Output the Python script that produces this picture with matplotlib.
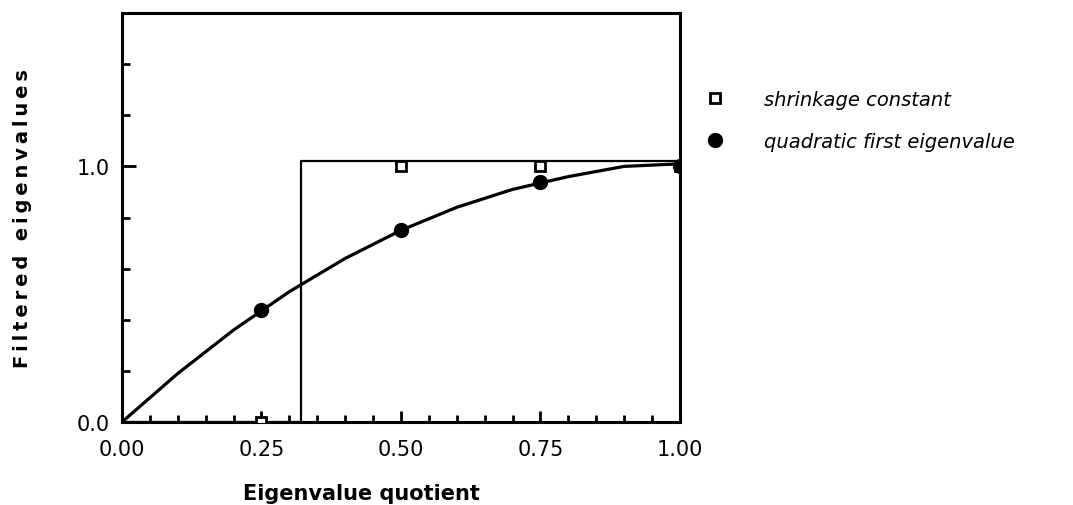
import matplotlib.pyplot as plt
from matplotlib.ticker import MultipleLocator

# values
quot_pts = [0.25, 0.50, 0.75, 1.00]
shrink_pts = [0.0, 1.0, 1.0, 1.0]
quad_pts = [0.44, 0.75, 0.94, 1.0]

curve_x = [0.0, 0.1, 0.2, 0.3, 0.4, 0.5, 0.6, 0.7, 0.8, 0.9, 1.0]
curve_y = [0.0, 0.19, 0.36, 0.51, 0.64, 0.75, 0.84, 0.91, 0.96, 1.0, 1.01]

step_x = [0.0, 0.32, 0.32, 1.0]
step_y = [0.0, 0.0, 1.02, 1.02]

x_ticks = [0.0, 0.25, 0.5, 0.75, 1.0]
x_ticklabels = ['0.00', '0.25', '0.50', '0.75', '1.00']
y_ticks = [0.0, 1.0]
y_ticklabels = ['0.0', '1.0']

fig = plt.figure(figsize=(10.73, 5.06), dpi=100)
ax = fig.add_axes([0.1137, 0.164, 0.52, 0.8083])

ax.plot(step_x, step_y, color='black', lw=1.6, zorder=2)
ax.plot(curve_x, curve_y, color='black', lw=2.3, zorder=2)
ax.plot(quot_pts, shrink_pts, ls='none', marker='s', ms=7, mfc='white',
        mec='black', mew=2, zorder=3, label='shrinkage constant')
ax.plot(quot_pts, quad_pts, ls='none', marker='o', ms=10, color='black',
        zorder=3, label='quadratic first eigenvalue')

ax.set_xlim(0, 1.0)
ax.set_ylim(0, 1.6)
ax.set_xticks(x_ticks)
ax.set_xticklabels(x_ticklabels)
ax.set_yticks(y_ticks)
ax.set_yticklabels(y_ticklabels)
ax.xaxis.set_minor_locator(MultipleLocator(0.05))
ax.yaxis.set_minor_locator(MultipleLocator(0.2))

for s in ax.spines.values():
    s.set_linewidth(2.2)
ax.tick_params(which='both', direction='in', top=False, right=False,
               width=2, labelsize=15)
ax.tick_params(axis='x', which='major', length=8, pad=12)
ax.tick_params(axis='x', which='minor', length=5)
ax.tick_params(axis='y', which='major', length=10, pad=9)
ax.tick_params(axis='y', which='minor', length=6)

# spaced-out lettering like the original
ylab = '\u2009'.join('Filtered') + '\u2009 \u2009' + '\u2009'.join('eigenvalues')
ax.set_ylabel(ylab, fontsize=14, fontweight='bold')
ax.yaxis.set_label_coords(-0.161, 0.5)
ax.set_xlabel('Eigenvalue quotient', fontsize=15, fontweight='bold')
ax.xaxis.set_label_coords(0.43, -0.148)

ax.legend(loc='upper left', bbox_to_anchor=(0.641, 0.855),
          bbox_transform=fig.transFigure, frameon=False,
          prop={'style': 'italic', 'size': 14}, handletextpad=2.0,
          labelspacing=1.2, handlelength=1.0)

fig.savefig('out.png', dpi=100)
